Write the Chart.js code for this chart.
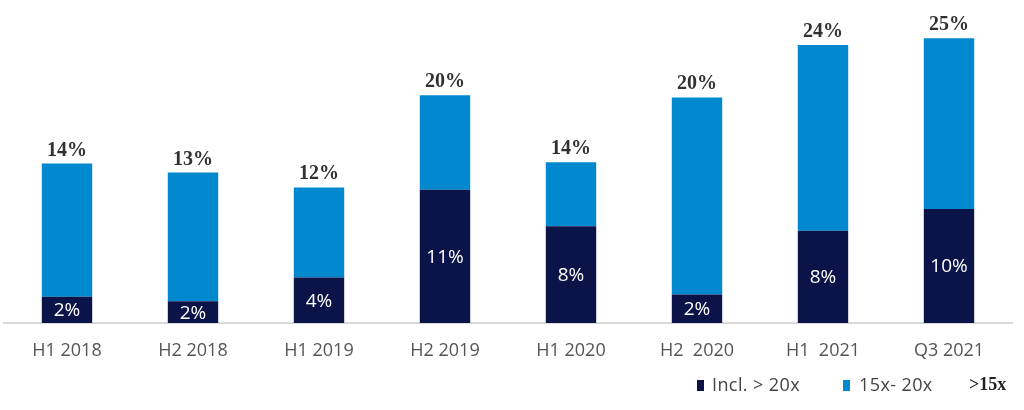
<!DOCTYPE html>
<html>
<head>
<meta charset="utf-8">
<script src="https://cdn.jsdelivr.net/npm/chart.js@4"></script>
<style>
  html, body { margin: 0; padding: 0; background: #fff; }
  #wrap { position: relative; width: 1024px; height: 410px; }
  .lg { position: absolute; top: 372px; font-family: 'Open Sans', sans-serif; font-size: 18px; color: #444; white-space: nowrap; letter-spacing: 0.4px; line-height: 24px; }
  .box { position: absolute; top: 380px; width: 7px; height: 11px; }
  #gt { font-family: 'Liberation Serif', serif; font-weight: bold; font-size: 18px; color: #222; letter-spacing: 0; }
</style>
</head>
<body>
<div id="wrap">
  <canvas id="chart" width="1024" height="410"></canvas>
  <div class="box" style="left:697px;background:#0b1448"></div>
  <div class="lg" style="left:712px">Incl. &gt; 20x</div>
  <div class="box" style="left:843px;background:#0089cf"></div>
  <div class="lg" style="left:859px">15x- 20x</div>
  <div class="lg" id="gt" style="left:969px">&gt;15x</div>
</div>
<script>
// categories and values (percent of deals)
const periods = ['H1 2018', 'H2 2018', 'H1 2019', 'H2 2019', 'H1 2020', 'H2  2020', 'H1  2021', 'Q3 2021'];
const above20x = [2.3, 1.9, 4.0, 11.7, 8.5, 2.5, 8.1, 10.0];
const between15and20x = [11.7, 11.3, 7.9, 8.3, 5.6, 17.3, 16.3, 15.0];
// labels as printed on the chart
const above20xLabels = ['2%', '2%', '4%', '11%', '8%', '2%', '8%', '10%'];
const totalLabels = ['14%', '13%', '12%', '20%', '14%', '20%', '24%', '25%'];

const barLabels = {
    id: 'barLabels',
    afterDatasetsDraw(chart) {
        const ctx = chart.ctx;
        ctx.save();
        ctx.textAlign = 'center';
        ctx.textBaseline = 'middle';
        // inside dark segment
        const dark = chart.getDatasetMeta(0).data;
        ctx.fillStyle = '#ffffff';
        ctx.font = '19px "Open Sans", sans-serif';
        dark.forEach((bar, i) => {
            ctx.fillText(above20xLabels[i], bar.x, (bar.y + bar.base) / 2 + 1);
        });
        // totals above stack
        const light = chart.getDatasetMeta(1).data;
        ctx.fillStyle = '#333030';
        ctx.font = 'bold 20px "Liberation Serif", serif';
        ctx.textBaseline = 'alphabetic';
        light.forEach((bar, i) => {
            ctx.fillText(totalLabels[i], bar.x, bar.y - 8);
        });
        ctx.restore();
    }
};

const ctx = document.getElementById('chart').getContext('2d');
new Chart(ctx, {
    type: 'bar',
    data: {
        labels: periods,
        datasets: [
            {
                label: 'Incl. >20x',
                data: above20x,
                backgroundColor: '#0b1448',
                barPercentage: 0.4,
                categoryPercentage: 1
            },
            {
                label: '15x- 20x',
                data: between15and20x,
                backgroundColor: '#0089cf',
                barPercentage: 0.4,
                categoryPercentage: 1
            }
        ]
    },
    options: {
        responsive: false,
        animation: false,
        layout: {
            padding: { left: 4, right: 12, top: 4, bottom: 0 }
        },
        plugins: {
            legend: { display: false },
            tooltip: { enabled: false }
        },
        scales: {
            y: {
                stacked: true,
                display: false,
                min: 0,
                max: 28
            },
            x: {
                stacked: true,
                grid: { display: false },
                border: { color: '#d9d9d9', width: 2 },
                ticks: {
                    color: '#555555',
                    padding: 9,
                    font: { family: 'Open Sans', size: 18 }
                },
                afterFit(scale) {
                    scale.height = 87;
                }
            }
        }
    },
    plugins: [barLabels]
});
</script>
</body>
</html>
